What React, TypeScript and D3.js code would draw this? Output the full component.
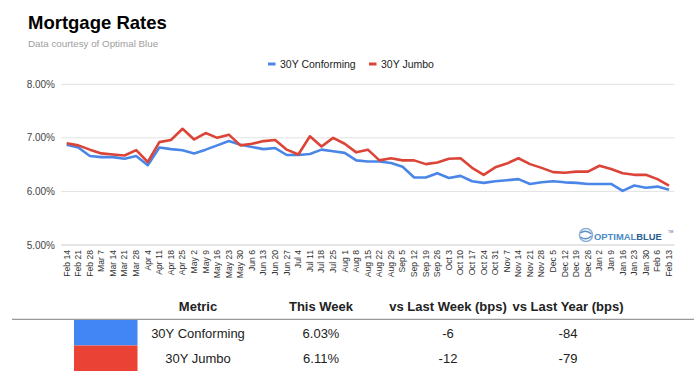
import React from "react";
import * as d3 from "d3";

const dates = [
  "Feb 14", "Feb 21", "Feb 28", "Mar 7", "Mar 14", "Mar 21", "Mar 28", "Apr 4", "Apr 11", "Apr 18", "Apr 25",
  "May 2", "May 9", "May 16", "May 23", "May 30", "Jun 6", "Jun 13", "Jun 20", "Jun 27", "Jul 4", "Jul 11",
  "Jul 18", "Jul 25", "Aug 1", "Aug 8", "Aug 15", "Aug 22", "Aug 29", "Sep 5", "Sep 12", "Sep 19", "Sep 26",
  "Oct 3", "Oct 10", "Oct 17", "Oct 24", "Oct 31", "Nov 7", "Nov 14", "Nov 21", "Nov 28", "Dec 5", "Dec 12",
  "Dec 19", "Dec 26", "Jan 2", "Jan 9", "Jan 16", "Jan 23", "Jan 30", "Feb 6", "Feb 13",
];

const conforming = [
  6.87, 6.82, 6.66, 6.64, 6.64, 6.61, 6.66, 6.49, 6.82, 6.79, 6.77,
  6.71, 6.78, 6.86, 6.94, 6.87, 6.83, 6.79, 6.81, 6.68, 6.68, 6.70,
  6.78, 6.75, 6.72, 6.58, 6.56, 6.56, 6.53, 6.46, 6.26, 6.26, 6.34,
  6.25, 6.29, 6.19, 6.16, 6.19, 6.21, 6.23, 6.14, 6.17, 6.19, 6.17,
  6.16, 6.14, 6.14, 6.14, 6.01, 6.11, 6.07, 6.09, 6.03,
];

const jumbo = [
  6.90, 6.86, 6.78, 6.71, 6.69, 6.67, 6.77, 6.55, 6.92, 6.96, 7.17,
  6.97, 7.09, 7.00, 7.06, 6.86, 6.89, 6.94, 6.96, 6.78, 6.69, 7.03,
  6.84, 7.00, 6.89, 6.73, 6.78, 6.58, 6.62, 6.58, 6.58, 6.51, 6.54,
  6.61, 6.62, 6.44, 6.31, 6.45, 6.52, 6.62, 6.51, 6.44, 6.36, 6.35,
  6.37, 6.37, 6.48, 6.42, 6.34, 6.31, 6.31, 6.23, 6.11,
];

const yTicks = [5, 6, 7, 8];

const seriesNames = ["30Y Conforming", "30Y Jumbo"];
const lineColors = ["#4a86e8", "#db4437"];
const swatchColors = ["#4285f4", "#ea4335"];

const tableHeaders = ["Metric", "This Week", "vs Last Week (bps)", "vs Last Year (bps)"];
const thisWeek = ["6.03%", "6.11%"];
const vsLastWeek = ["-6", "-12"];
const vsLastYear = ["-84", "-79"];

const FONT = "'Liberation Sans', Arial, Helvetica, sans-serif";

export default function App() {
  const W = 698;
  const H = 378;
  const x = d3.scalePoint<string>().domain(dates).range([60.9, 674.8]).padding(0.5);
  const y = d3.scaleLinear().domain([5, 8]).range([245, 84.3]);
  const line = d3
    .line<number>()
    .x((_, i) => x(dates[i]) as number)
    .y((d) => y(d));
  const series = [conforming, jumbo];

  const colX = [198, 321, 448, 568];
  const rowTop = [320, 345.5];
  const rowH = [25.5, 25.5];

  return (
    <svg
      width={W}
      height={H}
      viewBox={`0 0 ${W} ${H}`}
      style={{ position: "absolute", left: 0, top: 0, background: "#fff" }}
      fontFamily={FONT}
    >
      <rect x={0} y={0} width={W} height={H} fill="#fff" />
      <text x={28} y={29} fontSize={18.5} fontWeight="bold" fill="#000">
        Mortgage Rates
      </text>
      <text x={28} y={47} fontSize={9.8} fill="#9e9e9e">
        Data courtesy of Optimal Blue
      </text>

      {/* legend */}
      <g fontSize={10.5} fill="#222">
        <rect x={268} y={62.5} width={7.5} height={3} fill={lineColors[0]} />
        <text x={280} y={67.5}>{seriesNames[0]}</text>
        <rect x={369} y={62.5} width={7.5} height={3} fill={lineColors[1]} />
        <text x={381} y={67.5}>{seriesNames[1]}</text>
      </g>

      {/* grid */}
      {yTicks.map((t) => (
        <g key={t}>
          <line
            x1={61}
            x2={674.5}
            y1={y(t)}
            y2={y(t)}
            stroke={t === 5 ? "#cccccc" : "#e2e2e2"}
            strokeWidth={1}
          />
          <text x={55} y={y(t)} dy="0.35em" textAnchor="end" fontSize={10} fill="#444">
            {t.toFixed(2)}%
          </text>
        </g>
      ))}

      {/* lines */}
      {series.map((s, k) => (
        <path
          key={k}
          d={line(s) || ""}
          fill="none"
          stroke={lineColors[k]}
          strokeWidth={2.6}
          strokeLinejoin="round"
        />
      ))}

      {/* x labels */}
      {dates.map((d) => (
        <text
          key={d}
          transform={`translate(${x(d)},250) rotate(-90)`}
          dy="0.33em"
          textAnchor="end"
          fontSize={8.6}
          fill="#333"
        >
          {d}
        </text>
      ))}

      {/* logo */}
      <g>
        <circle cx={586} cy={235} r={6.5} fill="none" stroke="#8fb3d6" strokeWidth={1.6} />
        <path d="M580.5,233 Q586,229 591.5,234" fill="none" stroke="#5d8fc4" strokeWidth={1.4} />
        <path d="M580.5,237 Q586,241 591.5,236" fill="none" stroke="#5d8fc4" strokeWidth={1.4} />
        <text x={594} y={239.5} fontSize={9.4} fontWeight="bold">
          <tspan fill="#4b8cc6">OPTIMAL</tspan>
          <tspan fill="#2a5c92">BLUE</tspan>
        </text>
        <text x={668} y={232.5} fontSize={3.5} fill="#2a5c92">TM</text>
      </g>

      {/* table */}
      <g fontSize={13} fill="#222">
        {tableHeaders.map((h, i) => (
          <text key={h} x={colX[i]} y={310.5} textAnchor="middle" fontWeight="bold" fill="#222">
            {h}
          </text>
        ))}
        <line x1={12} x2={694} y1={319.3} y2={319.3} stroke="#999" strokeWidth={1.2} />
        {seriesNames.map((n, r) => (
          <g key={n}>
            <rect x={74} y={rowTop[r]} width={63.5} height={rowH[r]} fill={swatchColors[r]} />
            <text x={colX[0]} y={rowTop[r] + 17.5} textAnchor="middle">{n}</text>
            <text x={colX[1]} y={rowTop[r] + 17.5} textAnchor="middle">{thisWeek[r]}</text>
            <text x={colX[2]} y={rowTop[r] + 17.5} textAnchor="middle">{vsLastWeek[r]}</text>
            <text x={colX[3]} y={rowTop[r] + 17.5} textAnchor="middle">{vsLastYear[r]}</text>
          </g>
        ))}
      </g>
    </svg>
  );
}
